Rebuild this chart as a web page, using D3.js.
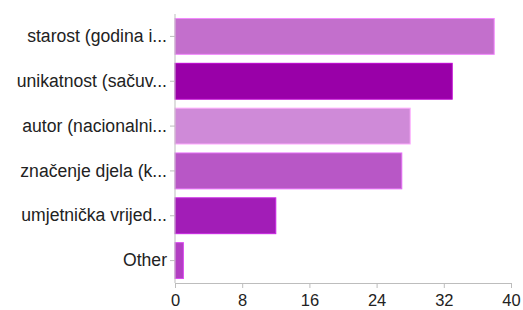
<!DOCTYPE html>
<html>
<head>
<meta charset="utf-8">
<script src="https://cdn.jsdelivr.net/npm/d3@7"></script>
<style>
  body { margin: 0; background: #fff; }
  text { font-family: "Liberation Sans", Arial, sans-serif; }
</style>
</head>
<body>
<svg id="chart" width="523" height="310"></svg>
<script>
const categories = ['starost (godina i...', 'unikatnost (sačuv...', 'autor (nacionalni...', 'značenje djela (k...', 'umjetnička vrijed...', 'Other']
const values = [38, 33, 28, 27, 12, 1]
const colors = ['#c36fcc', '#9900a8', '#cf8ad8', '#b857c6', '#a21db7', '#b23ec2']
const xTicks = [0, 8, 16, 24, 32, 40]

const svg = d3.select('#chart')
const margin = { top: 14, left: 175, right: 12, bottom: 27 }
const width = 523 - margin.left - margin.right
const height = 310 - margin.top - margin.bottom

const g = svg.append('g').attr('transform', `translate(${margin.left},${margin.top})`)

const x = d3.scaleLinear().domain([0, 40]).range([0, 336])
const y = d3.scaleBand().domain(categories).range([0, height]).paddingInner(0.2).paddingOuter(0.1)

// bars
g.selectAll('rect.bar')
  .data(values)
  .enter()
  .append('rect')
  .attr('class', 'bar')
  .attr('x', 0)
  .attr('y', (d, i) => y(categories[i]))
  .attr('width', d => x(d))
  .attr('height', y.bandwidth())
  .attr('fill', (d, i) => colors[i])
  .attr('stroke', (d, i) => d3.color(colors[i]).brighter(0.6))
  .attr('stroke-width', 1)

// y axis
const yAxis = g.append('g')
  .call(d3.axisLeft(y).tickSize(5).tickPadding(3))
yAxis.select('.domain').attr('stroke', '#bdbdbd').attr('d', `M0,0V${height}`)
yAxis.selectAll('.tick line').attr('stroke', '#bdbdbd')
yAxis.selectAll('.tick text').attr('font-size', 17.6).attr('fill', '#222')

// x axis
const xAxis = g.append('g')
  .attr('transform', `translate(0,${height})`)
  .call(d3.axisBottom(x).tickValues(xTicks).tickSize(5).tickSizeOuter(0).tickPadding(6))
xAxis.select('.domain').attr('stroke', '#bdbdbd')
xAxis.selectAll('.tick line').attr('stroke', '#bdbdbd')
xAxis.selectAll('.tick text').attr('font-size', 16.5).attr('fill', '#222')
</script>
</body>
</html>
